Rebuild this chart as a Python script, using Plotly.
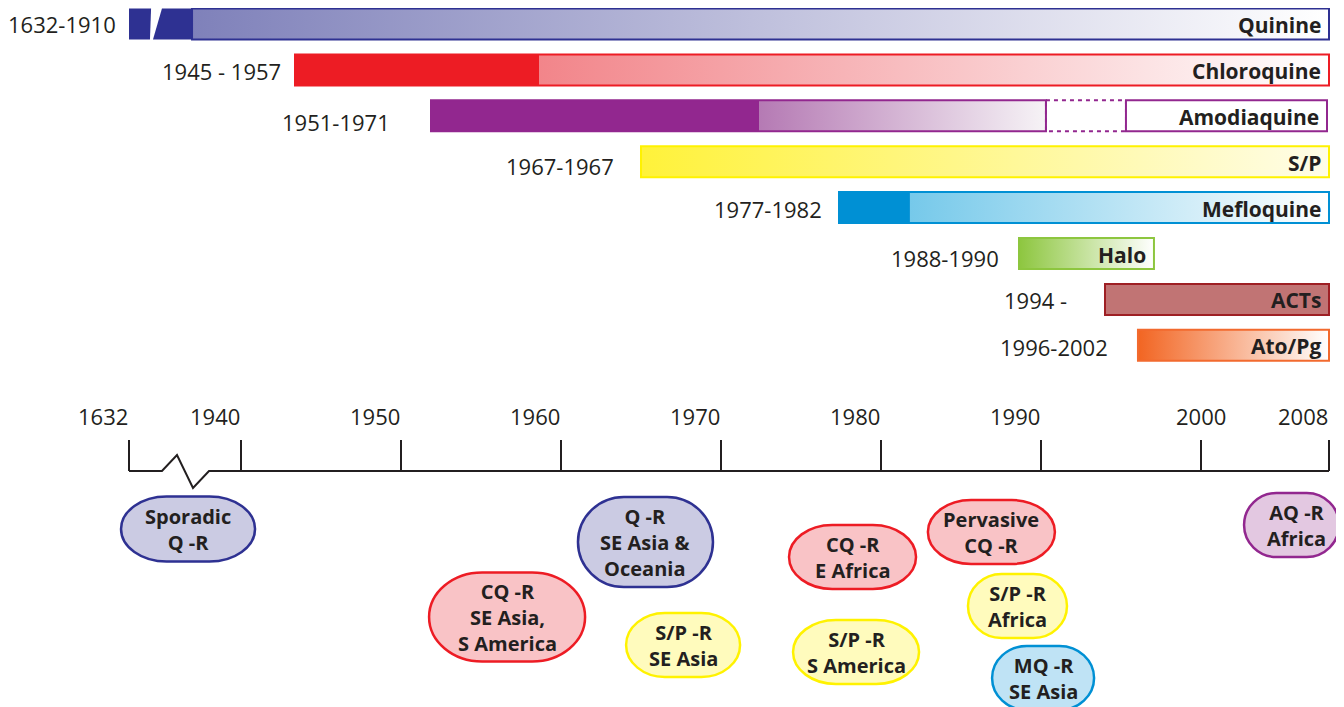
import plotly.graph_objects as go

# ------------------------------------------------------------------ data
drugs = ["Quinine", "Chloroquine", "Amodiaquine", "S/P", "Mefloquine", "Halo", "ACTs", "Ato/Pg"]
periods = ["1632-1910", "1945 - 1957", "1951-1971", "1967-1967", "1977-1982", "1988-1990", "1994 -", "1996-2002"]
# axis units are years; 1933 on the axis stands for the broken-off 1632
start = [1933.0, 1943.375, 1951.875, 1965.0, 1977.375, 1988.625, 1994.0, 1996.06]
solid_end = [1936.94, 1958.625, 1972.375, 1965.0, 1981.81, 1988.625, 2008.0, 1996.06]
fade_end = [2008.0, 2008.0, 1990.31, 2008.0, 2008.0, 1997.06, 2008.0, 2008.0]
bar_end = [2008.0, 2008.0, 2007.875, 2008.0, 2008.0, 1997.06, 2008.0, 2008.0]
amodiaquine_gap = [1990.31, 1995.31]
quinine_break_top = [1934.38, 1935.06]
quinine_break_bottom = [1934.31, 1934.5]

tick_years = [1933, 1940, 1950, 1960, 1970, 1980, 1990, 2000, 2008]
tick_text = ["1632", "1940", "1950", "1960", "1970", "1980", "1990", "2000", "2008"]
axis_break_x = [1935.06, 1936.0, 1937.0, 1938.0]

events = ["Sporadic<br>Q -R", "CQ -R<br>SE Asia,<br>S America", "Q -R<br>SE Asia &<br>Oceania",
          "S/P -R<br>SE Asia", "CQ -R<br>E Africa", "S/P -R<br>S America", "Pervasive<br>CQ -R",
          "S/P -R<br>Africa", "MQ -R<br>SE Asia", "AQ -R<br>Africa"]
event_year = [1936.69, 1956.63, 1965.28, 1967.63, 1978.22, 1978.44, 1986.9, 1988.53, 1990.13, 2005.66]
event_drug = ["Quinine", "Chloroquine", "Quinine", "S/P", "Chloroquine", "S/P", "Chloroquine",
              "S/P", "Mefloquine", "Amodiaquine"]

# ------------------------------------------------------------------ layout / style
W, H = 1344, 707
OFF = 8              # page body margin of the html page
PXY = 16.0           # pixels per year
X_AT_PX = (1940.0, 241.0)


def yrs(px):
    return px / PXY


x_range = [X_AT_PX[0] - (X_AT_PX[1] - OFF) / PXY, X_AT_PX[0] + (W - X_AT_PX[1]) / PXY]

row_y0, row_step, bar_h = 24.0, 45.9, 31.0
label_gap = [11, 12, 39, 25, 15, 18, 36, 28]
label_dy = [0, 1, 6, 4, 1, 4, 1, 2]

style = {
    "Quinine": dict(line="#2e3192", solid="#2e3192", f0="#7f81ba", f1="#ffffff"),
    "Chloroquine": dict(line="#ed1c24", solid="#ed1c24", f0="#f2858a", f1="#ffffff"),
    "Amodiaquine": dict(line="#92278f", solid="#92278f", f0="#b57ab4", f1="#f6f3f6"),
    "S/P": dict(line="#fff200", solid="#fff200", f0="#fff23a", f1="#fffde8"),
    "Mefloquine": dict(line="#0090d4", solid="#0090d4", f0="#76c9ea", f1="#ffffff"),
    "Halo": dict(line="#8dc63f", solid="#8dc63f", f0="#8dc63f", f1="#ffffff"),
    "ACTs": dict(line="#9e1f24", solid="#c17474", f0="#c17474", f1="#c17474"),
    "Ato/Pg": dict(line="#f26a2e", solid="#f26522", f0="#f26522", f1="#ffffff"),
}
oval_style = {
    "Quinine": ("#cbcbe3", "#2e3192"),
    "Chloroquine": ("#f9c3c6", "#ed1c24"),
    "S/P": ("#fffbbd", "#fff200"),
    "Mefloquine": ("#bfe3f5", "#0090d4"),
    "Amodiaquine": ("#e3c8e1", "#92278f"),
}
event_cy = [529, 617, 542, 645, 557, 652, 532, 606, 678, 525]
event_w = [134, 156, 135, 114, 127, 126, 127, 99, 102, 95]
event_h = [65, 89, 90, 64, 64, 64, 64, 64, 64, 64]
event_dx = [0, 0, 0, 0, 0, 0, 0, 0, 0, 5]

axis_y, tick_top, tick_label_y = 471.0, 440.0, 416.0
zig_y = [471.0, 455.0, 488.0, 471.0]
tick_label_dx = [-26, -26, -26, -26, -26, -26, -26, 0, -26]
TXT = "#231f20"
FONT = "Open Sans"

fig = go.Figure()
shapes, annotations = [], []


def rect_xy(x0, x1, y0, y1):
    return [x0, x1, x1, x0, x0], [y0, y0, y1, y1, y0]


def add_fill(x0, x1, y0, y1, color=None, grad=None):
    xs, ys = rect_xy(x0, x1, y0, y1)
    kw = dict(x=xs, y=ys, mode="lines", fill="toself", line=dict(width=0),
              hoverinfo="skip", showlegend=False)
    if grad:
        kw["fillgradient"] = dict(type="horizontal", colorscale=[[0, grad[0]], [1, grad[1]]],
                                  start=x0, stop=x1)
        kw["fillcolor"] = grad[0]
    else:
        kw["fillcolor"] = color
    fig.add_trace(go.Scatter(**kw))


for i, d in enumerate(drugs):
    st = style[d]
    cy = row_y0 + row_step * i
    y0, y1 = cy - bar_h / 2, cy + bar_h / 2
    if d == "Quinine":
        # broken solid block
        fig.add_trace(go.Scatter(
            x=[start[i], quinine_break_top[0], quinine_break_bottom[0], start[i], start[i]],
            y=[y0, y0, y1, y1, y0], mode="lines", fill="toself", fillcolor=st["solid"],
            line=dict(width=0), hoverinfo="skip", showlegend=False))
        fig.add_trace(go.Scatter(
            x=[quinine_break_top[1], solid_end[i], solid_end[i], quinine_break_bottom[1], quinine_break_top[1]],
            y=[y0, y0, y1, y1, y0], mode="lines", fill="toself", fillcolor=st["solid"],
            line=dict(width=0), hoverinfo="skip", showlegend=False))
        add_fill(solid_end[i], fade_end[i], y0, y1, grad=(st["f0"], st["f1"]))
        shapes.append(dict(type="rect", xref="x", yref="y", x0=solid_end[i], x1=bar_end[i],
                           y0=y0, y1=y1, line=dict(color=st["line"], width=2), layer="above"))
    else:
        if solid_end[i] > start[i]:
            add_fill(start[i], solid_end[i], y0, y1, color=st["solid"])
        if d != "ACTs":
            add_fill(solid_end[i], fade_end[i], y0, y1, grad=(st["f0"], st["f1"]))
        if d == "Amodiaquine":
            shapes.append(dict(type="rect", xref="x", yref="y", x0=start[i], x1=amodiaquine_gap[0],
                               y0=y0, y1=y1, line=dict(color=st["line"], width=2)))
            shapes.append(dict(type="rect", xref="x", yref="y", x0=amodiaquine_gap[0],
                               x1=amodiaquine_gap[1], y0=y0, y1=y1,
                               line=dict(color=st["line"], width=2, dash="4px,4px")))
            shapes.append(dict(type="rect", xref="x", yref="y", x0=amodiaquine_gap[1], x1=bar_end[i],
                               y0=y0, y1=y1, fillcolor="#ffffff",
                               line=dict(color=st["line"], width=2)))
        else:
            shapes.append(dict(type="rect", xref="x", yref="y", x0=start[i], x1=bar_end[i],
                               y0=y0, y1=y1, line=dict(color=st["line"], width=2)))
    # drug name inside bar
    annotations.append(dict(x=bar_end[i] - yrs(6), y=cy + 1, xref="x", yref="y",
                            text="<b>%s</b>" % d, showarrow=False, xanchor="right", yanchor="middle",
                            font=dict(family=FONT, size=21, color=TXT)))
    # period label left of bar
    annotations.append(dict(x=start[i] - yrs(label_gap[i]), y=cy + label_dy[i], xref="x", yref="y",
                            text=periods[i], showarrow=False, xanchor="right", yanchor="middle",
                            font=dict(family=FONT, size=22, color=TXT)))

# ------------------------------------------------------------------ timeline axis
ax_x = [tick_years[0], axis_break_x[0], axis_break_x[1], axis_break_x[2], axis_break_x[3], tick_years[-1]]
ax_y = [axis_y, zig_y[0], zig_y[1], zig_y[2], zig_y[3], axis_y]
fig.add_trace(go.Scatter(x=ax_x, y=ax_y, mode="lines", line=dict(color=TXT, width=2),
                         hoverinfo="skip", showlegend=False))
for t, lab, dx in zip(tick_years, tick_text, tick_label_dx):
    shapes.append(dict(type="line", xref="x", yref="y", x0=t, x1=t, y0=tick_top, y1=axis_y,
                       line=dict(color=TXT, width=2)))
    annotations.append(dict(x=t + yrs(dx), y=tick_label_y, xref="x", yref="y", text=lab,
                            showarrow=False, xanchor="center", yanchor="middle",
                            font=dict(family=FONT, size=22, color=TXT)))

# ------------------------------------------------------------------ resistance ovals
K = 0.5523


def oval_path(cx, cy, w, h):
    hw = w / 2
    a = 0.34 * w
    b = h / 2
    L, R, T, B = cx - hw, cx + hw, cy - b, cy + b
    p = []
    p.append("M %f,%f" % (L + a, T))
    p.append("L %f,%f" % (R - a, T))
    p.append("C %f,%f %f,%f %f,%f" % (R - a + K * a, T, R, cy - K * b, R, cy))
    p.append("C %f,%f %f,%f %f,%f" % (R, cy + K * b, R - a + K * a, B, R - a, B))
    p.append("L %f,%f" % (L + a, B))
    p.append("C %f,%f %f,%f %f,%f" % (L + a - K * a, B, L, cy + K * b, L, cy))
    p.append("C %f,%f %f,%f %f,%f" % (L, cy - K * b, L + a - K * a, T, L + a, T))
    p.append("Z")
    return " ".join(p)


for i, ev in enumerate(events):
    fill, line = oval_style[event_drug[i]]
    cx = event_year[i]
    shapes.append(dict(type="path", xref="x", yref="y",
                       path=oval_path(cx, event_cy[i], yrs(event_w[i]), event_h[i]),
                       fillcolor=fill, line=dict(color=line, width=2.5), layer="above"))
    annotations.append(dict(x=cx + yrs(event_dx[i]), y=event_cy[i], xref="x", yref="y",
                            text="<b>%s</b>" % ev, showarrow=False, xanchor="center",
                            yanchor="middle", align="center",
                            font=dict(family=FONT, size=20, color=TXT)))

fig.update_layout(
    width=W - OFF, height=H - OFF, margin=dict(l=0, r=0, t=0, b=0),
    paper_bgcolor="white", plot_bgcolor="white",
    xaxis=dict(range=x_range, visible=False, fixedrange=True),
    yaxis=dict(range=[H, OFF], visible=False, fixedrange=True),
    shapes=shapes, annotations=annotations, showlegend=False,
)
fig.write_html("out.html")
